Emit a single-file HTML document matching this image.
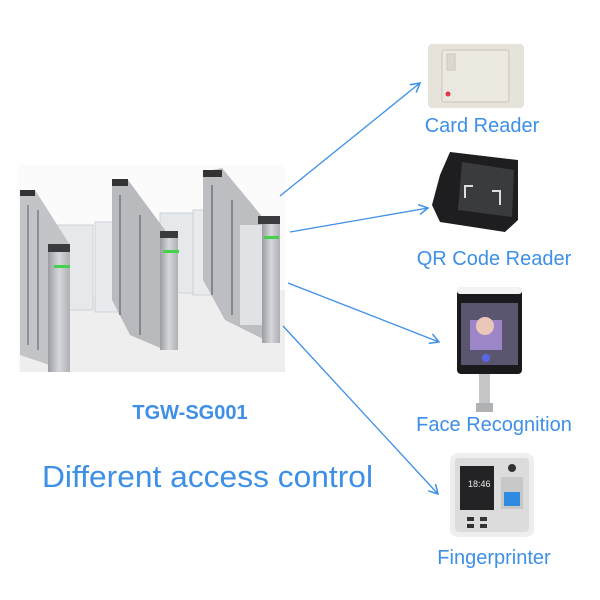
<!DOCTYPE html>
<html><head><meta charset="utf-8"><style>
html,body{margin:0;padding:0;background:#fff;}
svg{display:block;}
text{font-family:"Liberation Sans",sans-serif;fill:#3d8fe8;}
</style></head><body>
<svg width="600" height="600" viewBox="0 0 600 600" xmlns="http://www.w3.org/2000/svg">
<defs>
<marker id="a" markerWidth="12" markerHeight="12" refX="10" refY="6" orient="auto" markerUnits="userSpaceOnUse">
<path d="M1,1 L10,6 L1,11" fill="none" stroke="#3d8fe8" stroke-width="1.5"/>
</marker>
<linearGradient id="post" x1="0" x2="1"><stop offset="0" stop-color="#9a9ca1"/><stop offset="0.5" stop-color="#d6d7da"/><stop offset="1" stop-color="#aeb0b4"/></linearGradient>
</defs>
<rect x="18" y="165" width="267" height="207" fill="#fbfbfb"/>
<polygon points="20,300 285,290 285,372 20,372" fill="#eeeeee"/>
<!-- glass panels -->
<rect x="58" y="225" width="35" height="85" fill="#e6e9ec" stroke="#cdd1d5"/>
<rect x="95" y="222" width="35" height="90" fill="#e8ebee" stroke="#cdd1d5"/>
<rect x="160" y="213" width="33" height="80" fill="#e6e9ec" stroke="#cdd1d5"/>
<rect x="193" y="210" width="35" height="85" fill="#e8ebee" stroke="#cdd1d5"/>
<!-- left gate -->
<polygon points="20,195 35,190 70,245 70,372 20,355" fill="#c2c4c8"/>
<path d="M28,205 v140 M38,210 v140" stroke="#8e9095" stroke-width="2"/>
<rect x="48" y="245" width="22" height="127" fill="url(#post)"/>
<rect x="48" y="244" width="22" height="8" fill="#3a3b3e"/>
<rect x="54" y="265" width="16" height="3" fill="#44d24a"/>
<rect x="20" y="190" width="15" height="6" fill="#333"/>
<!-- middle gate -->
<polygon points="112,185 128,180 165,230 165,350 130,335 112,300" fill="#b8babe"/>
<path d="M120,195 v120 M140,215 v120" stroke="#85878c" stroke-width="2"/>
<rect x="160" y="232" width="18" height="118" fill="url(#post)"/>
<rect x="160" y="231" width="18" height="7" fill="#3a3b3e"/>
<rect x="163" y="250" width="16" height="3" fill="#44d24a"/>
<rect x="112" y="179" width="16" height="7" fill="#333"/>
<!-- right gate -->
<polygon points="203,172 222,168 265,220 265,340 225,320 203,280" fill="#bcbec2"/>
<path d="M212,185 v110 M232,200 v115" stroke="#85878c" stroke-width="2"/>
<rect x="240" y="225" width="22" height="100" fill="#e0e2e5"/>
<rect x="262" y="218" width="18" height="125" fill="url(#post)"/>
<rect x="258" y="216" width="22" height="8" fill="#3a3b3e"/>
<rect x="264" y="236" width="15" height="3" fill="#44d24a"/>
<rect x="203" y="170" width="19" height="7" fill="#333"/>
<!-- arrows -->
<g stroke="#3d8fe8" stroke-width="1.3" fill="none" marker-end="url(#a)">
<line x1="280" y1="196" x2="420" y2="83"/>
<line x1="290" y1="232" x2="428" y2="208"/>
<line x1="288" y1="283" x2="439" y2="342"/>
<line x1="283" y1="326" x2="438" y2="494"/>
</g>
<!-- card reader -->
<rect x="428" y="44" width="96" height="64" rx="4" fill="#e6e3da"/>
<rect x="442" y="50" width="67" height="52" rx="2" fill="#ebe8e0" stroke="#c9c5bb"/>
<rect x="447" y="54" width="8" height="16" fill="#dcd8ce" stroke="#ccc8be"/>
<circle cx="448" cy="94" r="2.5" fill="#e2354a"/>
<!-- QR reader -->
<polygon points="450,152 518,160 518,220 505,232 440,222 432,205 440,175" fill="#1e1e20"/>
<polygon points="462,162 514,170 512,217 458,210" fill="#3a3b3e"/>
<path d="M465,198 v-12 h8 M492,191 h8 v14" stroke="#ddd" stroke-width="2" fill="none"/>
<!-- face recognition -->
<rect x="457" y="287" width="65" height="87" rx="4" fill="#1a1a1c"/>
<rect x="457" y="287" width="65" height="7" rx="3" fill="#f3f3f3"/>
<rect x="461" y="303" width="57" height="62" fill="#5a5670"/>
<rect x="470" y="320" width="32" height="30" fill="#9d86c8"/>
<circle cx="485" cy="326" r="9" fill="#e9c8b8"/>
<circle cx="486" cy="358" r="4" fill="#5b66e6"/>
<rect x="479" y="374" width="11" height="30" fill="#c5c6c8"/>
<rect x="476" y="403" width="17" height="9" fill="#b0b1b3"/>
<!-- fingerprint -->
<rect x="450" y="453" width="84" height="84" rx="8" fill="#eeeeee"/>
<rect x="455" y="458" width="74" height="74" rx="4" fill="#dcdcdc"/>
<rect x="460" y="466" width="34" height="44" fill="#232325"/>
<text x="468" y="487" style="fill:#eee;font-size:9px">18:46</text>
<circle cx="512" cy="468" r="4" fill="#333"/>
<rect x="501" y="477" width="22" height="32" fill="#c8c8c8"/>
<rect x="504" y="492" width="16" height="14" fill="#2f8be0"/>
<rect x="467" y="517" width="7" height="4" fill="#333"/><rect x="480" y="517" width="7" height="4" fill="#333"/>
<rect x="467" y="524" width="7" height="4" fill="#333"/><rect x="480" y="524" width="7" height="4" fill="#333"/>
<!-- labels -->
<text x="482" y="132" font-size="20" text-anchor="middle">Card Reader</text>
<text x="494" y="265" font-size="20" text-anchor="middle">QR Code Reader</text>
<text x="494" y="431" font-size="20" text-anchor="middle">Face Recognition</text>
<text x="494" y="564" font-size="20" text-anchor="middle">Fingerprinter</text>
<text x="190" y="419" font-size="20" font-weight="bold" text-anchor="middle">TGW-SG001</text>
<text x="42" y="487" font-size="31" textLength="331" lengthAdjust="spacingAndGlyphs">Different access control</text>
</svg>
</body></html>
